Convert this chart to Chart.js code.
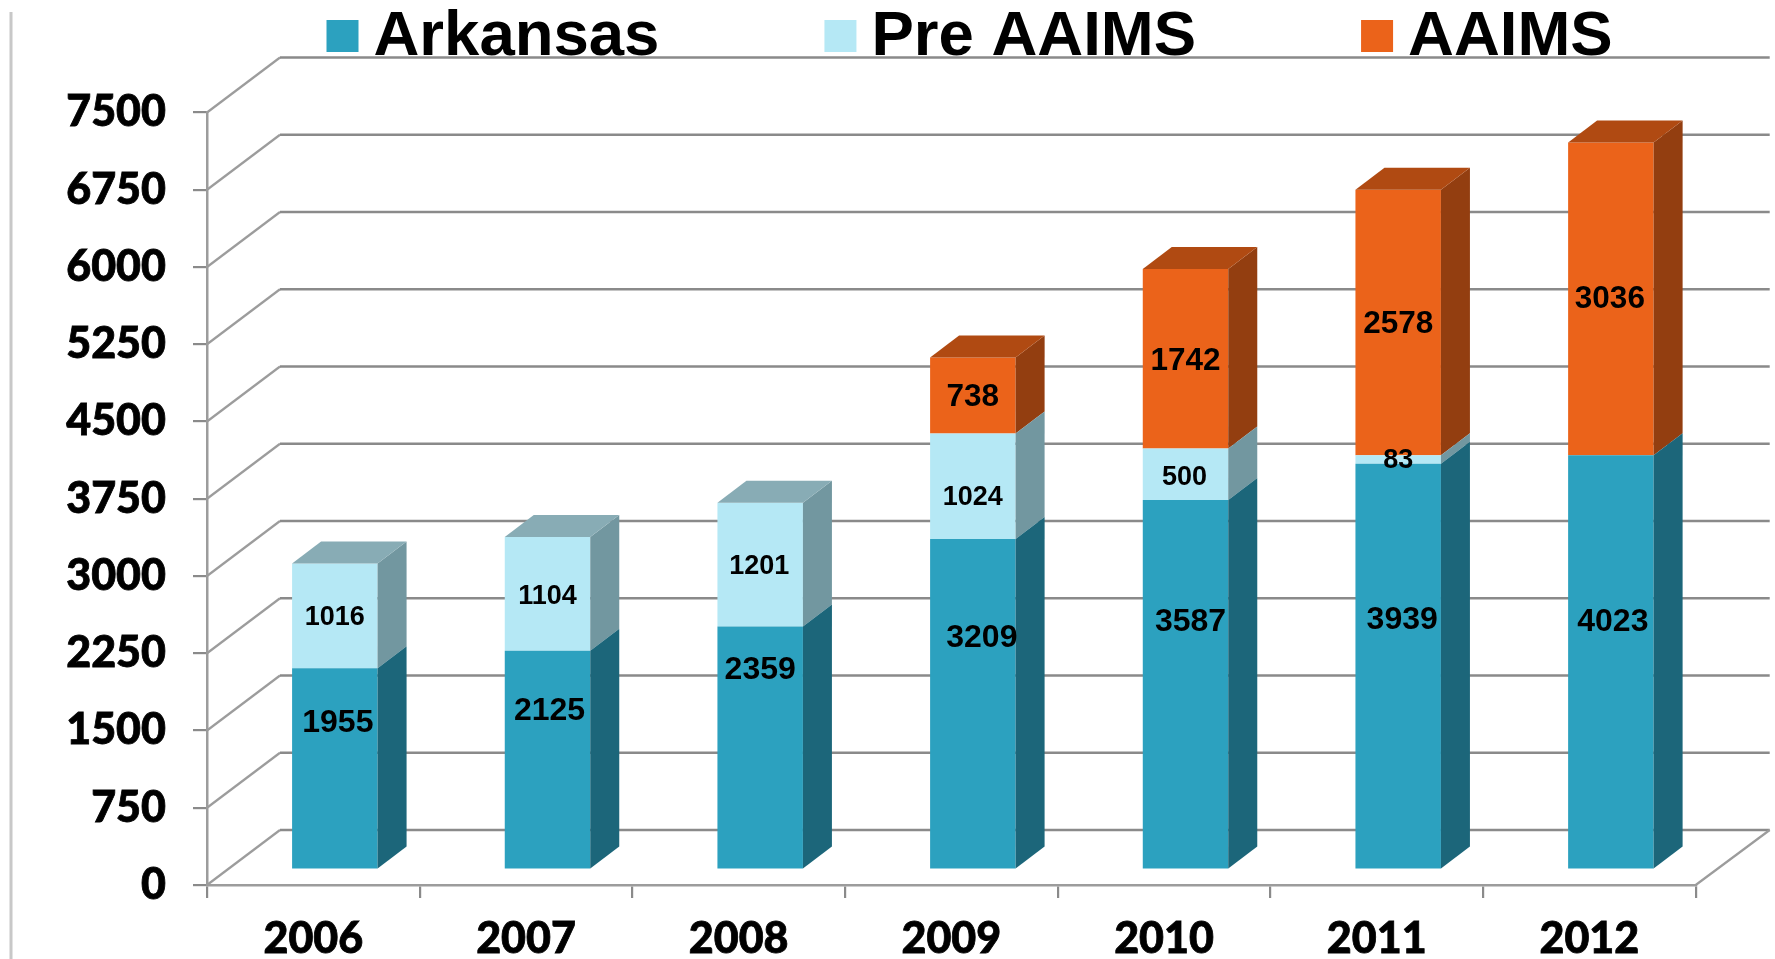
<!DOCTYPE html>
<html>
<head>
<meta charset="utf-8">
<title>Arkansas, Pre AAIMS, AAIMS</title>
<script src="https://cdn.jsdelivr.net/npm/chart.js@4"></script>
<style>
    html, body { margin: 0; padding: 0; background: #ffffff; }
    canvas { display: block; }
</style>
</head>
<body>
<canvas id="chart" width="1775" height="959"></canvas>
<script>
const years = ['2006', '2007', '2008', '2009', '2010', '2011', '2012'];
const arkansas = [1955, 2125, 2359, 3209, 3587, 3939, 4023];
const preAaims = [1016, 1104, 1201, 1024, 500, 83, null];
const aaims = [null, null, null, 738, 1742, 2578, 3036];
const yStep = 750;
const yMax = 7500;

// Colores: frente, lado, tapa
const blue = ['#2ca1bf', '#1c667a', '#22809a'];
const light = ['#b5e8f5', '#7297a0', '#88acb5'];
const orange = ['#eb631a', '#933e10', '#b04a12'];

// Las etiquetas del original están movidas a mano respecto al centro del segmento
const nudgeArkansas = [[3, -45], [2, -48], [0, -77], [9, -66], [5, -62], [4, -46], [2, -40]];
const nudgePre = [[0, 2], [0, 3], [-1, 2], [0, 11], [-1, 3], [0, 1], [0, 0]];
const nudgeAaims = [[0, 0], [0, 0], [0, 0], [0, 2], [0, 2], [0, 2], [-1, 1]];

const gridColor = '#8a8a8a';
const depthX = 29, depthY = 22;     // fondo de cada barra
const wallX = 73, wallY = 55;       // fondo de la pared
const shiftX = 21.5, shiftY = -15.5; // las barras están dentro del suelo

function line(ctx, points, color, width) {
    ctx.beginPath();
    points.forEach((p, i) => i ? ctx.lineTo(p[0], p[1]) : ctx.moveTo(p[0], p[1]));
    ctx.strokeStyle = color;
    ctx.lineWidth = width;
    ctx.stroke();
}

function poly(ctx, points, color) {
    ctx.beginPath();
    points.forEach((p, i) => i ? ctx.lineTo(p[0], p[1]) : ctx.moveTo(p[0], p[1]));
    ctx.closePath();
    ctx.fillStyle = color;
    ctx.fill();
}

const pseudo3d = {
    id: 'pseudo3d',
    beforeDatasetsDraw(chart) {
        const ctx = chart.ctx;
        const area = chart.chartArea;
        const y = chart.scales.y;
        const backRight = area.right + wallX + 1;

        // Raya gris del borde de la diapositiva
        line(ctx, [[11, 12], [11, 959]], '#c8c8c8', 3);

        // Pared del fondo y suelo
        ctx.save();
        ctx.lineJoin = 'round';
        y.ticks.forEach(t => {
            const py = y.getPixelForValue(t.value);
            line(ctx, [[area.left, py], [area.left + wallX, py - wallY]], '#9c9c9c', 2.2);
            line(ctx, [[area.left + wallX, py - wallY], [backRight, py - wallY]], gridColor, 2.6);
        });
        const floor = y.getPixelForValue(0);
        line(ctx, [[backRight, floor - wallY], [area.right, floor]], '#9c9c9c', 2.2);
        ctx.restore();

        ctx.save();
        ctx.translate(shiftX, shiftY);
    },
    afterDatasetsDraw(chart) {
        const ctx = chart.ctx;
        const topDone = {};

        // Lados, y la tapa sólo en el último segmento de cada columna
        for (let d = chart.data.datasets.length - 1; d >= 0; d--) {
            const ds = chart.data.datasets[d];
            chart.getDatasetMeta(d).data.forEach((bar, i) => {
                if (ds.data[i] === null) return;
                const right = bar.x + bar.width / 2;
                const left = bar.x - bar.width / 2;
                poly(ctx, [[right, bar.base], [right + depthX, bar.base - depthY],
                    [right + depthX, bar.y - depthY], [right, bar.y]], ds.sideColor);
                if (!topDone[i]) {
                    topDone[i] = true;
                    poly(ctx, [[left, bar.y], [left + depthX, bar.y - depthY],
                        [right + depthX, bar.y - depthY], [right, bar.y]], ds.topColor);
                }
            });
        }

        // Valores sobre las barras
        ctx.textAlign = 'center';
        ctx.textBaseline = 'middle';
        ctx.fillStyle = '#000000';
        chart.data.datasets.forEach((ds, d) => {
            ctx.font = 'bold ' + ds.labelSize + 'px "Liberation Sans"';
            chart.getDatasetMeta(d).data.forEach((bar, i) => {
                if (ds.data[i] === null) return;
                const nudge = ds.nudge[i];
                ctx.fillText(ds.data[i], bar.x + nudge[0], (bar.y + bar.base) / 2 + nudge[1]);
            });
        });
        ctx.restore();
    },
    afterDraw(chart) {
        // Leyenda
        const ctx = chart.ctx;
        let x = 326.5;
        ctx.save();
        ctx.font = 'bold 63.5px "Liberation Sans"';
        ctx.textAlign = 'left';
        ctx.textBaseline = 'alphabetic';
        chart.data.datasets.forEach(ds => {
            ctx.fillStyle = ds.backgroundColor;
            ctx.fillRect(x, 20, 32, 32);
            ctx.fillStyle = '#000000';
            ctx.fillText(ds.label, x + 47, 55);
            x += 47 + ctx.measureText(ds.label).width + 165;
        });
        ctx.restore();
    }
};

new Chart(document.getElementById('chart'), {
    type: 'bar',
    data: {
        labels: years,
        datasets: [
            { label: 'Arkansas', data: arkansas, backgroundColor: blue[0], sideColor: blue[1], topColor: blue[2], nudge: nudgeArkansas, labelSize: 32 },
            { label: 'Pre AAIMS', data: preAaims, backgroundColor: light[0], sideColor: light[1], topColor: light[2], nudge: nudgePre, labelSize: 27 },
            { label: 'AAIMS', data: aaims, backgroundColor: orange[0], sideColor: orange[1], topColor: orange[2], nudge: nudgeAaims, labelSize: 31.5 }
        ]
    },
    plugins: [pseudo3d],
    options: {
        responsive: false,
        animation: false,
        clip: false,
        barPercentage: 0.402,
        categoryPercentage: 1,
        layout: { padding: { top: 112.5, right: 79.3, left: 0, bottom: 0 } },
        plugins: {
            legend: { display: false },
            tooltip: { enabled: false }
        },
        scales: {
            x: {
                stacked: true,
                afterFit: scale => { scale.height = 74; },
                grid: { drawOnChartArea: false, color: gridColor, lineWidth: 2.2, tickLength: 13 },
                border: { color: '#9c9c9c', width: 2.5 },
                ticks: {
                    color: '#000000',
                    padding: 15,
                    maxRotation: 0,
                    textStrokeColor: '#000000',
                    textStrokeWidth: 0.8,
                    font: { family: 'Lato', weight: '900', size: 43 }
                }
            },
            y: {
                stacked: true,
                min: 0,
                max: yMax,
                afterFit: scale => { scale.width = 207; },
                grid: { drawOnChartArea: false, color: gridColor, lineWidth: 2.2, tickLength: 14 },
                border: { color: '#9c9c9c', width: 2.5 },
                ticks: {
                    stepSize: yStep,
                    color: '#000000',
                    padding: 27,
                    textStrokeColor: '#000000',
                    textStrokeWidth: 0.8,
                    font: { family: 'Lato', weight: '900', size: 43 },
                    callback: v => String(v)
                }
            }
        }
    }
});
</script>
</body>
</html>
